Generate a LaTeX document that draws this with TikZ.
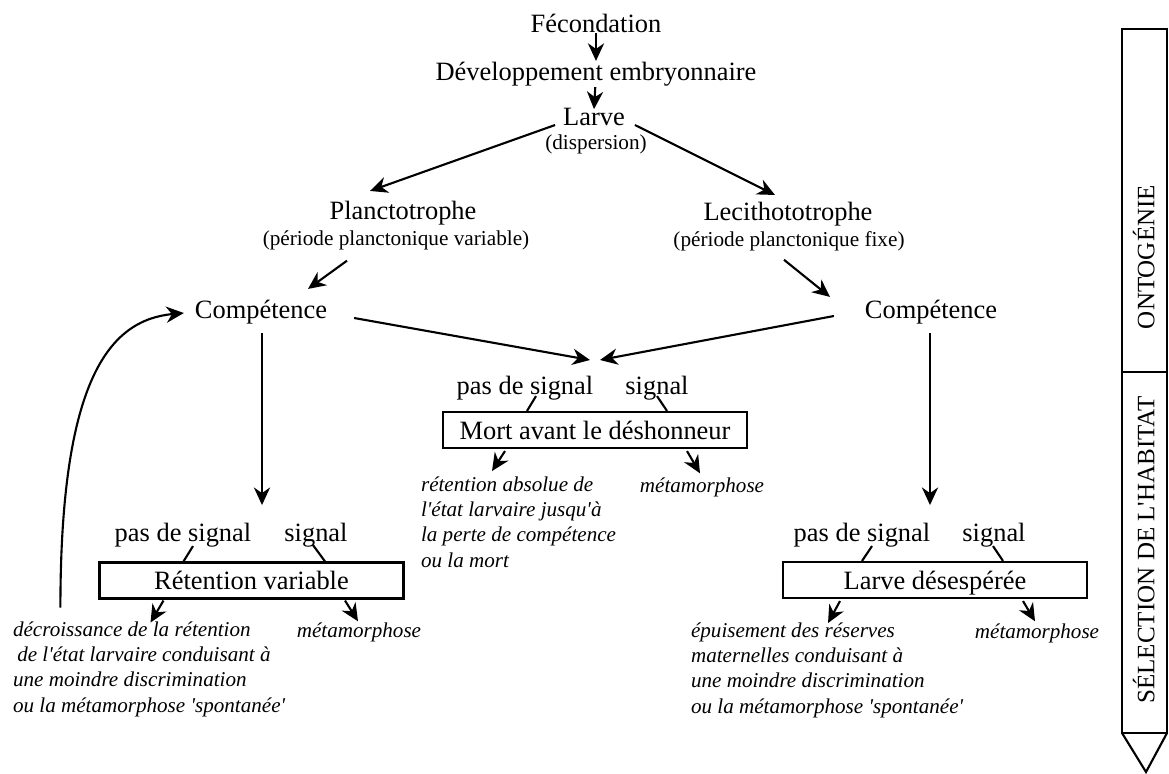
\documentclass[tikz,border=0pt]{standalone}
\usepackage{fontspec}
\newfontfamily\timesfont{Liberation Serif}
\usetikzlibrary{arrows.meta,calc}

\begin{document}
\begin{tikzpicture}[x=0.025cm,y=-0.025cm,line width=1.5pt,
  every node/.style={inner sep=0pt,font=\timesfont\fontsize{18.8}{22}\selectfont},
  arr/.style={-{Stealth[length=12.5pt,width=11.5pt,inset=4pt]}},
  small/.style={font=\timesfont\fontsize{15.1}{18}\selectfont},
  res/.style={font=\timesfont\itshape\fontsize{15}{17.8}\selectfont,align=left,anchor=base west},
  resbox/.style={draw,minimum width=7.6cm,minimum height=0.9cm,text height=13pt,text depth=0pt},
  side/.style={rotate=90,text height=12pt,text depth=0pt,font=\timesfont\fontsize{17.8}{20}\selectfont}]
\useasboundingbox (0,0) rectangle (1169,774);
\node (fec) at (596,23) {Fécondation};
\node (dev) at (596,74) {Développement embryonnaire};
\node (larve) at (594,117) {Larve};
\node[small] (disp) at (596,144) {(dispersion)};
\node (plancto) at (403,213) {Planctotrophe};
\node[small] (planctosub) at (396,240) {(période planctonique variable)};
\node (lecitho) at (788,214) {Lecithototrophe};
\node[small] (lecithosub) at (789,241) {(période planctonique fixe)};
\node (compL) at (261,312) {Compétence};
\node (compR) at (931,312) {Compétence};
\coordinate (conv) at (595,360);
\node (midpas) at (525,388) {pas de signal};
\node (midsig) at (657,388) {signal};
\node[resbox] (midbox) at (595,430) {Mort avant le déshonneur};
\node[res] (midtxt) at (420,567) {rétention absolue de\\l'état larvaire jusqu'à\\la perte de compétence\\ou la mort};
\node[res,anchor=base] (midmet) at (702,492) {métamorphose};
\node (leftpas) at (183,535) {pas de signal};
\node (leftsig) at (316,535) {signal};
\node[resbox] (leftbox) at (251.5,580.5) {Rétention variable};
\node[res] (lefttxt) at (12,712) {décroissance de la rétention\\\hspace*{3pt}de l'état larvaire conduisant à\\une moindre discrimination\\ou la métamorphose 'spontanée'};
\node[res,anchor=base] (leftmet) at (359,637) {métamorphose};
\node (rightpas) at (862,535) {pas de signal};
\node (rightsig) at (994,535) {signal};
\node[resbox] (rightbox) at (935,580) {Larve désespérée};
\node[res] (righttxt) at (690,713) {épuisement des réserves\\maternelles conduisant à\\une moindre discrimination\\ou la métamorphose 'spontanée'};
\node[res,anchor=base] (rightmet) at (1037,638) {métamorphose};
\draw[arr] (fec) -- (dev);
\draw[arr] (dev) -- ($(larve.north)+(0,2)$);
\draw[arr] ($(larve.west)+(-7,8)$) -- ($(plancto.north)+(-33,-9)$);
\draw[arr] ($(larve.east)+(9,8)$) -- ($(lecitho.north)+(-13,-6)$);
\draw[arr] ($(planctosub.south)+(-49,10)$) -- ($(compL.north)+(47,-10)$);
\draw[arr] ($(lecithosub.south)+(-5,8)$) -- ($(compR.north)+(-101,-2)$);
\draw[arr] ($(compL.east)+(26,6)$) -- ($(conv)+(-5,0)$);
\draw[arr] ($(compR.west)+(-30,4)$) -- ($(conv)+(5,0)$);
\draw[arr] ($(compL.south)+(1,8)$) -- ($(compL.south)+(1,180)$);
\draw[arr] ($(compR.south)+(-1,8)$) -- ($(compR.south)+(-1,180)$);
\draw ($(midpas.south)+(11,-5)$) -- ($(midbox.north)+(-68,0)$);
\draw ($(midsig.south)+(0,-5)$) -- ($(midbox.north)+(72,0)$);
\draw[arr] ($(midbox.south)+(-90,2)$) -- ($(midbox.south)+(-103,22)$);
\draw[arr] ($(midbox.south)+(92,2)$) -- ($(midmet.north)+(-2,-3)$);
\draw ($(leftpas.south)+(10,-2)$) -- ($(leftbox.north)+(-68,0)$);
\draw ($(leftsig.south)+(-3,-3)$) -- ($(leftbox.north)+(73.5,0)$);
\draw[arr] ($(leftbox.south)+(-88,1)$) -- ($(leftbox.south)+(-101,23)$);
\draw[arr] ($(leftbox.south)+(93.5,1)$) -- ($(leftmet.north)+(-1,0)$);
\draw ($(rightpas.south)+(10,-2)$) -- ($(rightbox.north)+(-73,0)$);
\draw ($(rightsig.south)+(-1,-2)$) -- ($(rightbox.north)+(68,0)$);
\draw[arr] ($(rightbox.south)+(-95,2)$) -- ($(rightbox.south)+(-107,24)$);
\draw[arr] ($(rightbox.south)+(88,2)$) -- ($(rightmet.north)+(-2,-1)$);
\draw[arr] ($(leftbox.west)+(-38,27)$) .. controls +(0,-227) and +(-75,7) .. ($(compL.west)+(-10,1)$);
\draw (1122,29) rectangle (1167,733);
\draw (1122,372) -- (1167,372);
\draw (1122,733) -- (1146,772) -- (1167,733);
\node[side] (onto) at (1146,257) {ONTOGÉNIE};
\node[side] (habitat) at (1146,550) {SÉLECTION DE L'HABITAT};
\end{tikzpicture}
\end{document}
